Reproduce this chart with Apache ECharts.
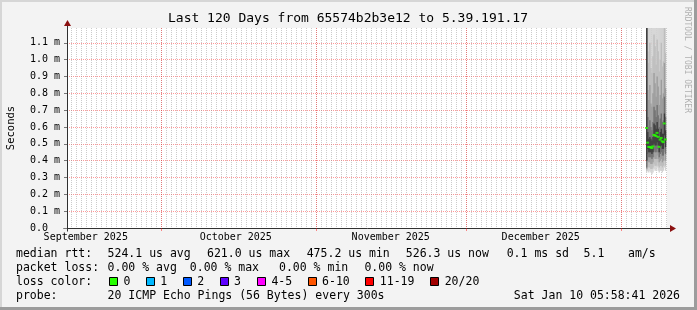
<!DOCTYPE html>
<html><head><meta charset="utf-8">
<script src="https://cdn.jsdelivr.net/npm/echarts@6/dist/echarts.min.js"></script>
<style>html,body{margin:0;padding:0;background:#f3f3f3}#c{width:697px;height:310px}</style>
</head><body><div id="c"></div>
<script>
// ---------- data ----------
const titleText = 'Last 120 Days from 65574b2b3e12 to 5.39.191.17';
const yAxisName = 'Seconds';
const startTime = '2025-09-12T05:58:41Z';
const endTime = '2026-01-10T05:58:41Z';
const yMax = 1.188; // ms
const yStep = 0.1;  // ms
const monthStarts = ['2025-10-01T00:00:00Z', '2025-11-01T00:00:00Z', '2025-12-01T00:00:00Z', '2026-01-01T00:00:00Z'];
const monthLabelTimes = ['2025-09-16T00:00:00Z', '2025-10-16T00:00:00Z', '2025-11-16T00:00:00Z', '2025-12-16T00:00:00Z'];
const monthLabels = ['September 2025', 'October 2025', 'November 2025', 'December 2025'];

const sampleTimes = [
  '2026-01-06T04:00:00Z', '2026-01-06T09:00:00Z', '2026-01-06T14:00:00Z', '2026-01-06T19:00:00Z',
  '2026-01-07T00:00:00Z', '2026-01-07T05:00:00Z', '2026-01-07T10:00:00Z', '2026-01-07T15:00:00Z',
  '2026-01-07T20:00:00Z', '2026-01-08T01:00:00Z', '2026-01-08T06:00:00Z', '2026-01-08T11:00:00Z',
  '2026-01-08T16:00:00Z', '2026-01-08T21:00:00Z', '2026-01-09T02:00:00Z', '2026-01-09T07:00:00Z',
  '2026-01-09T12:00:00Z', '2026-01-09T17:00:00Z', '2026-01-09T22:00:00Z'
];
// median rtt (ms)
const medianRtt = [0.594, 0.507, 0.482, 0.481, 0.479, 0.475, 0.485, 0.553, 0.550, 0.547, 0.565, 0.541, 0.482, 0.525, 0.535, 0.515, 0.510, 0.621, 0.526];
// ping distribution percentiles (ms)
const p0   = [0.33, 0.34, 0.33, 0.34, 0.33, 0.32, 0.33, 0.35, 0.34, 0.34, 0.36, 0.34, 0.33, 0.34, 0.34, 0.33, 0.34, 0.36, 0.34];
const p5   = [0.34, 0.37, 0.36, 0.36, 0.35, 0.35, 0.36, 0.38, 0.37, 0.37, 0.39, 0.37, 0.36, 0.37, 0.37, 0.36, 0.37, 0.40, 0.37];
const p15  = [0.35, 0.40, 0.39, 0.39, 0.38, 0.38, 0.39, 0.42, 0.41, 0.41, 0.43, 0.41, 0.39, 0.40, 0.41, 0.39, 0.40, 0.45, 0.40];
const p30  = [0.36, 0.44, 0.42, 0.42, 0.42, 0.41, 0.42, 0.46, 0.45, 0.45, 0.47, 0.45, 0.42, 0.44, 0.45, 0.43, 0.43, 0.50, 0.44];
const p40  = [0.40, 0.47, 0.45, 0.45, 0.45, 0.44, 0.45, 0.50, 0.49, 0.49, 0.51, 0.49, 0.45, 0.48, 0.49, 0.47, 0.47, 0.55, 0.48];
const p60  = [1.30, 0.57, 0.53, 0.54, 0.53, 0.52, 0.54, 0.62, 0.61, 0.59, 0.63, 0.59, 0.54, 0.57, 0.59, 0.56, 0.56, 0.68, 0.58];
const p70  = [1.40, 0.66, 0.60, 0.64, 0.60, 0.58, 0.63, 0.72, 0.70, 0.66, 0.73, 0.67, 0.60, 0.65, 0.68, 0.63, 0.64, 0.78, 0.66];
const p85  = [1.50, 0.82, 0.76, 0.85, 0.74, 0.72, 0.80, 0.92, 0.86, 0.78, 0.90, 0.84, 0.73, 0.79, 0.88, 0.77, 0.80, 0.98, 0.83];
const p95  = [1.60, 1.05, 0.98, 1.10, 0.95, 0.92, 1.02, 1.15, 1.08, 0.97, 1.12, 1.05, 0.93, 1.00, 1.10, 0.96, 0.99, 1.20, 1.04];
const p100 = [2.00, 1.80, 1.60, 1.90, 1.70, 1.50, 1.80, 2.10, 1.90, 1.60, 1.70, 2.00, 1.50, 1.80, 1.90, 1.60, 1.70, 2.20, 1.80];

const rttLegend = [['median rtt:', 16], ['524.1 us avg', 107.6], ['621.0 us max', 207], ['475.2 us min', 306.7], ['526.3 us now', 405.8], ['0.1 ms sd', 506.7], ['5.1', 583.6], ['am/s', 628]];
const lossLegend = [['packet loss:', 16], ['0.00 % avg', 107.6], ['0.00 % max', 189.8], ['0.00 % min', 279], ['0.00 % now', 364.4]];
const lossColorLabels = ['0', '1', '2', '3', '4-5', '6-10', '11-19', '20/20'];
const lossColors = ['#26ff00', '#00b8ff', '#0059ff', '#5e00ff', '#ff00ff', '#ff5500', '#ff0000', '#a10000'];
const probeText = '20 ICMP Echo Pings (56 Bytes) every 300s';
const dateText = 'Sat Jan 10 05:58:41 2026';
const watermark = 'RRDTOOL / TOBI OETIKER';

// ---------- build ----------
const ts = s => Date.parse(s);
const tStart = ts(startTime), tEnd = ts(endTime);
const dayTicks = [];
{
  const d = new Date(tStart); d.setUTCHours(0, 0, 0, 0);
  for (let t = d.getTime() + 86400000; t < tEnd; t += 86400000) dayTicks.push(t);
}
const monthTicks = monthStarts.map(ts);
const labelTicks = monthLabelTimes.map(ts);
const times = sampleTimes.map(ts);
const stepMs = times[1] - times[0];

const MONO = 'DejaVu Sans Mono';
const bands = [
  [p0, p100, '#d2d2d2'],
  [p5, p95, '#bdbdbd'],
  [p15, p85, '#9c9c9c'],
  [p30, p70, '#707070'],
  [p40, p60, '#3c3c3c']
];
const smokeSeries = bands.map(([lo, hi, color]) => ({
  type: 'custom', xAxisIndex: 0, yAxisIndex: 0, clip: true, silent: true,
  data: times.map((t, i) => [t, lo[i], hi[i]]),
  encode: { x: 0, y: [1, 2] },
  renderItem: (params, api) => {
    const t = api.value(0);
    const a = api.coord([t, api.value(2)]);
    const b = api.coord([t, api.value(1)]);
    const w = api.size([stepMs, 0])[0];
    return {
      type: 'rect',
      shape: { x: a[0] - w / 2, y: a[1], width: w + 0.3, height: b[1] - a[1] },
      style: { fill: color }
    };
  }
}));

const chart = echarts.init(document.getElementById('c'), null, { renderer: 'canvas' });
const axisBase = { type: 'value', min: tStart, max: tEnd, position: 'bottom', axisLine: { show: false } };
const option = {
  animation: false,
  backgroundColor: '#f3f3f3',
  grid: { left: 67, right: 30, top: 28, bottom: 82, show: true, backgroundColor: '#ffffff', borderWidth: 0, containLabel: false },
  xAxis: [
    Object.assign({}, axisBase, {
      axisTick: { show: false, customValues: dayTicks },
      axisLabel: { show: false },
      splitLine: { show: true, lineStyle: { color: 'rgba(140,140,140,0.45)', width: 1, type: [1, 1] } }
    }),
    Object.assign({}, axisBase, {
      axisTick: { show: true, length: 3, customValues: monthTicks, lineStyle: { color: 'rgba(255,0,0,0.45)' } },
      axisLabel: { show: false },
      splitLine: { show: true, lineStyle: { color: 'rgba(255,0,0,0.4)', width: 1, type: [1, 1] } }
    })
  ],
  yAxis: {
    type: 'value', min: 0, max: yMax, interval: yStep,
    axisLine: { show: false },
    axisTick: { show: true, length: 3, lineStyle: { color: '#777' } },
    axisLabel: {
      margin: 7, fontFamily: MONO, fontSize: 10, color: '#000', showMaxLabel: false,
      formatter: v => {
        if (Math.abs(v * 10 - Math.round(v * 10)) > 1e-6) return '';
        return v === 0 ? '0.0  ' : v.toFixed(1) + ' m';
      }
    },
    splitLine: { show: true, showMinLine: false, showMaxLine: false, lineStyle: { color: 'rgba(255,0,0,0.4)', width: 1, type: [1, 1] } }
  },
  series: smokeSeries.concat([{
    type: 'scatter', xAxisIndex: 0, yAxisIndex: 0, silent: true,
    symbol: 'rect', symbolSize: [3, 2],
    itemStyle: { color: lossColors[0] },
    data: times.map((t, i) => [t, medianRtt[i]])
  }])
};
chart.setOption(option);

// ---------- decorations (title, month labels, legend, axes with arrows, frame) ----------
const px = (t, v) => chart.convertToPixel({ xAxisIndex: 0, yAxisIndex: 0 }, [t, v]);
const o = px(tStart, 0);
const e = px(tEnd, yMax);
const x0 = Math.round(o[0]) + 0.5, y0 = Math.round(o[1]) + 0.5, x1 = Math.round(e[0]), y1 = Math.round(e[1]);
const AX = '#303030', ARROW = '#8b1010';
const txt = (text, x, y, extra) => ({
  type: 'text', x, y, silent: true,
  style: Object.assign({ text, font: '11.5px "' + MONO + '"', fill: '#000', textVerticalAlign: 'middle', textAlign: 'left' }, extra || {})
});
const g = [];
// frame
g.push({ type: 'rect', shape: { x: 0, y: 0, width: 697, height: 2 }, style: { fill: '#d6d6d6' }, silent: true });
g.push({ type: 'rect', shape: { x: 0, y: 0, width: 2, height: 310 }, style: { fill: '#d6d6d6' }, silent: true });
g.push({ type: 'rect', shape: { x: 694, y: 0, width: 3, height: 310 }, style: { fill: '#9c9c9c' }, silent: true });
g.push({ type: 'rect', shape: { x: 0, y: 307, width: 697, height: 3 }, style: { fill: '#9c9c9c' }, silent: true });
// axes
g.push({ type: 'line', shape: { x1: x0 - 4, y1: y0, x2: x1 + 4, y2: y0 }, style: { stroke: AX, lineWidth: 1 }, silent: true });
g.push({ type: 'line', shape: { x1: x0, y1: y0 + 3, x2: x0, y2: y1 - 3 }, style: { stroke: AX, lineWidth: 1 }, silent: true });
g.push({ type: 'polygon', shape: { points: [[x1 + 3, y0 - 3.5], [x1 + 9, y0], [x1 + 3, y0 + 3.5]] }, style: { fill: ARROW }, silent: true });
g.push({ type: 'polygon', shape: { points: [[x0 - 3.5, y1 - 2], [x0, y1 - 8], [x0 + 3.5, y1 - 2]] }, style: { fill: ARROW }, silent: true });
// month labels placed through the x scale
labelTicks.forEach((t, i) => {
  const p = px(t, 0);
  g.push(txt(monthLabels[i], p[0], p[1] + 9.5, { font: '10px "' + MONO + '"', textAlign: 'center' }));
});
// title & side labels
g.push(txt(titleText, 348, 19, { font: '13px "' + MONO + '"', textAlign: 'center' }));
g.push({ type: 'text', x: 11, y: 128, rotation: Math.PI / 2, silent: true,
  style: { text: yAxisName, font: '10.5px "' + MONO + '"', fill: '#000', textAlign: 'center', textVerticalAlign: 'middle' } });
g.push({ type: 'text', x: 687, y: 60, rotation: -Math.PI / 2, silent: true,
  style: { text: watermark, font: '8px "' + MONO + '"', fill: '#b0b0b0', textAlign: 'center', textVerticalAlign: 'middle' } });
// legend
const rows = [254, 268, 282, 296];
rttLegend.forEach(([t, x]) => g.push(txt(t, x, rows[0])));
lossLegend.forEach(([t, x]) => g.push(txt(t, x, rows[1])));
g.push(txt('loss color:', 16, rows[2]));
const boxX = [108.9, 145.8, 182.7, 219.6, 256.9, 307.6, 365.3, 430.2];
lossColorLabels.forEach((lab, i) => {
  g.push({ type: 'rect', shape: { x: Math.round(boxX[i]) + 0.5, y: rows[2] - 4.5, width: 8, height: 8 }, style: { fill: lossColors[i], stroke: '#000', lineWidth: 1 }, silent: true });
  g.push(txt(lab, boxX[i] + 14.5, rows[2]));
});
g.push(txt('probe:', 16, rows[3]));
g.push(txt(probeText, 107.6, rows[3]));
g.push(txt(dateText, 680, rows[3], { textAlign: 'right' }));
chart.setOption({ graphic: { elements: g } });
</script>
</body></html>
